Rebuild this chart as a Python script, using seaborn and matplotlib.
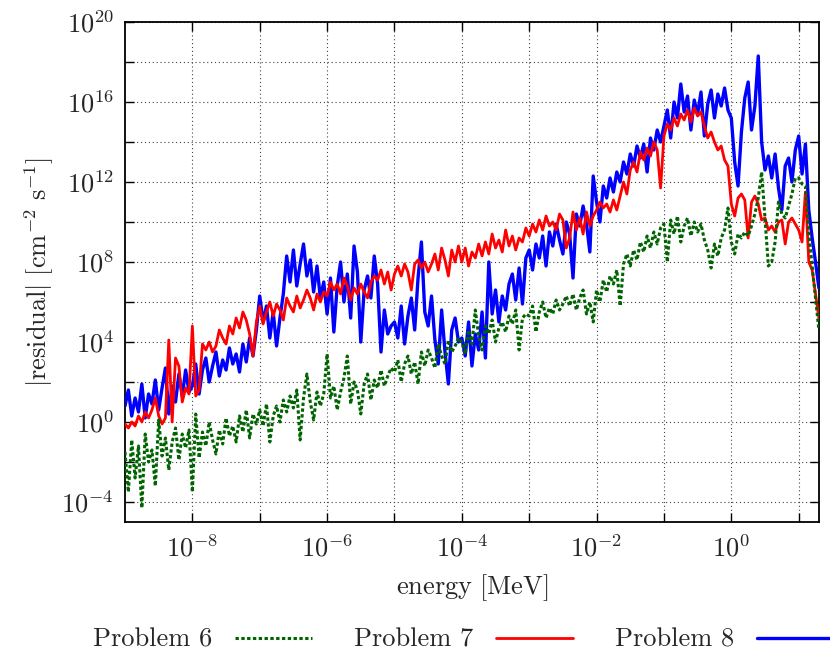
import numpy as np
import pandas as pd
import matplotlib
matplotlib.use("Agg")
import matplotlib.pyplot as plt
import seaborn as sns
from matplotlib.ticker import FixedLocator, FuncFormatter, NullFormatter

# ---------------- data (log10 of energy grid and log10 |residual|) ----------------
log_energy = np.round(np.arange(-9.0, 1.3001, 0.05), 2)   # 207 energy points [MeV]

problem6_log = [
    -1.5, -3.5, -0.9, -2.8, -1.2, -4.3, -0.6, -2.0, -1.4, -3.2, 0.1, -1.7, -0.8, -2.4, -1.0, -0.3, -1.9, -0.6, -1.3, -0.4,
    -3.5, 0.4, -1.8, -0.5, -1.2, 0.0, -0.9, -1.6, -0.4, -1.1, 0.2, -0.7, -0.2, -1.0, 0.3, -0.5, 0.6, -0.8, 0.4, -0.1,
    0.6, -0.2, 0.9, -1.0, 0.3, 0.8, 0.0, 1.1, 0.5, 1.3, 0.7, 1.6, -0.9, 1.2, 2.4, 1.0, 0.1, 1.5, 0.8, 1.4,
    3.4, 1.2, 1.8, 0.6, 1.5, 2.2, 3.3, 0.9, 2.0, 1.6, 0.4, 1.9, 2.4, 1.1, 2.1, 1.7, 2.6, 1.8, 2.3, 2.7,
    2.5, 3.1, 2.0, 2.9, 3.3, 2.4, 3.0, 1.9, 3.5, 2.8, 3.6, 3.2, 2.7, 3.9, 3.3, 2.9, 4.1, 3.5, 3.8, 4.2,
    4.0, 3.4, 4.6, 3.9, 5.6, 4.3, 3.6, 4.8, 4.4, 5.1, 4.0, 4.7, 5.0, 4.5, 5.3, 4.9, 5.6, 3.6, 5.2, 5.4,
    5.3, 5.8, 4.5, 5.5, 6.0, 5.2, 5.7, 5.4, 6.1, 5.6, 5.9, 6.3, 5.8, 6.4, 5.6, 6.2, 6.6, 5.4, 6.0, 5.0,
    6.6, 6.0, 7.1, 6.5, 7.3, 6.9, 7.6, 5.8, 7.9, 8.4, 7.8, 8.6, 8.1, 9.0, 8.5, 9.3, 8.7, 9.5, 8.9, 9.7,
    9.9, 8.0, 10.1, 9.4, 10.3, 9.0, 9.8, 10.2, 9.3, 10.0, 9.5, 9.9, 9.1, 8.6, 7.7, 8.9, 8.3, 9.2, 9.6, 10.7,
    9.0, 8.4, 9.4, 9.2, 9.5, 9.3, 9.8, 10.4, 11.2, 12.5, 10.2, 7.8, 8.0, 9.0, 11.0, 10.4, 10.2, 10.8, 11.4, 12.2,
    12.2, 11.9, 11.8, 9.5, 7.8, 6.2, 4.6,
]

problem7_log = [
    -0.1, -0.3, 0.0, -0.2, 0.3, 0.0, 0.5, 0.2, 0.6, 1.2, 0.3, -0.1, 0.2, 4.1, 0.0, 3.2, 2.8, 1.0, 1.7, 1.4,
    4.8, 1.3, 1.6, 3.9, 3.6, 4.0, 3.5, 3.8, 4.6, 4.2, 3.9, 4.8, 4.4, 5.2, 4.7, 5.5, 5.1, 4.4, 3.3, 5.0,
    5.8, 4.9, 5.5, 6.0, 5.3, 5.9, 5.6, 5.1, 6.2, 5.8, 5.5, 6.3, 5.7, 6.1, 6.6, 6.2, 5.6, 6.4, 6.0, 6.5,
    6.3, 7.0, 6.6, 6.9, 6.4, 7.2, 6.8, 6.1, 6.7, 6.4, 6.9, 6.5, 6.2, 7.0, 7.3, 7.1, 7.6, 6.9, 7.5, 6.6,
    7.4, 7.8, 7.3, 7.9, 7.5, 6.6, 7.9, 8.1, 7.7, 8.0, 7.5, 7.9, 8.4, 7.6, 8.7, 8.1, 7.3, 8.6, 8.0, 8.8,
    8.0, 8.7, 7.8, 8.5, 8.2, 8.9, 8.3, 9.0, 8.4, 9.4, 8.7, 9.1, 8.5, 9.6, 8.8, 9.3, 8.6, 9.2, 9.0, 9.7,
    9.3, 9.9, 9.5, 10.1, 9.6, 10.3, 9.8, 10.0, 9.6, 10.4, 10.1, 8.7, 9.2, 10.5, 9.6, 10.2, 9.4, 10.5, 9.8, 10.3,
    10.6, 11.0, 10.7, 10.9, 10.5, 11.1, 10.6, 11.3, 12.0, 11.4, 12.6, 13.0, 12.5, 13.5, 13.1, 13.7, 13.3, 14.0, 13.6, 11.7,
    14.3, 14.9, 14.6, 15.2, 14.8, 15.4, 15.1, 15.6, 15.0, 15.7, 15.3, 15.5, 14.8, 14.2, 14.5, 14.0, 13.6, 13.8, 13.1, 12.8,
    10.9, 10.3, 11.2, 11.4, 11.1, 9.2, 11.0, 11.3, 10.9, 10.1, 10.2, 9.6, 9.8, 9.5, 10.0, 10.1, 8.9, 10.0, 10.2, 9.9,
    9.6, 9.0, 11.5, 8.0, 7.6, 6.4, 5.2,
]

problem8_log = [
    0.8, 1.6, 0.3, 1.2, 0.5, 1.9, 0.2, 1.4, 0.9, 2.1, 0.6, 1.7, 2.7, 0.4, 1.8, 1.0, 2.4, 1.3, 2.6, 1.5,
    1.8, 2.9, 1.4, 2.6, 3.2, 2.0, 2.8, 3.5, 2.3, 3.1, 2.6, 3.7, 2.9, 3.4, 2.5, 3.9, 3.0, 4.2, 3.3, 4.6,
    6.3, 5.0, 5.8, 4.2, 5.5, 3.8, 5.2, 6.4, 8.3, 7.0, 8.6, 6.8, 7.9, 8.9, 7.3, 8.1, 6.5, 7.8, 6.2, 7.0,
    5.4, 7.2, 4.5, 6.8, 8.0, 6.0, 7.4, 5.2, 8.8, 7.5, 4.0, 6.6, 7.3, 6.2, 8.3, 6.9, 3.5, 5.6, 4.4, 4.8,
    5.0, 4.2, 5.8, 3.9, 5.3, 6.2, 4.6, 7.2, 9.0, 5.5, 4.8, 6.3, 4.1, 2.9, 5.6, 3.5, 1.9, 4.6, 5.2, 4.0,
    4.2, 3.3, 5.0, 2.8, 4.4, 3.6, 5.5, 3.2, 8.0, 5.4, 6.6, 5.0, 6.3, 5.6, 6.9, 7.4, 6.1, 7.7, 5.9, 8.2,
    8.6, 7.6, 8.9, 8.2, 9.3, 7.8, 9.5, 8.8, 9.9, 9.1, 8.4, 10.0, 9.4, 7.2, 10.4, 9.8, 10.8, 9.9, 8.5, 12.3,
    11.0, 10.0, 11.8, 11.2, 12.2, 11.5, 12.5, 12.0, 13.0, 12.4, 13.4, 12.8, 13.8, 13.2, 13.9, 12.5, 14.2, 13.6, 14.6, 14.0,
    14.8, 15.6, 14.2, 16.0, 15.2, 16.9, 15.5, 16.3, 14.6, 16.1, 15.4, 16.5, 14.3, 15.9, 16.6, 15.2, 16.4, 15.8, 16.7, 15.6,
    15.2, 13.0, 11.8, 14.5, 16.2, 17.0, 14.6, 15.8, 18.3, 14.0, 12.6, 13.3, 12.2, 13.4, 11.7, 10.6, 12.8, 13.2, 12.0, 13.6,
    14.3, 12.4, 13.9, 10.6, 9.2, 8.0, 6.7,
]

series_labels = ["Problem 6", "Problem 7", "Problem 8"]
x_tick_exps = [-8, -6, -4, -2, 0]
y_tick_exps = [-4, 0, 4, 8, 12, 16, 20]

# ---------------- style ----------------
sns.set_style("ticks")
plt.rcParams.update({
    "font.family": "serif",
    "font.serif": ["cmr10", "DejaVu Serif"],
    "mathtext.fontset": "cm",
    "axes.formatter.use_mathtext": True,
    "axes.unicode_minus": True,
})
FS = 19

energy = 10.0 ** log_energy
frames = {
    "Problem 6": pd.DataFrame({"energy": energy, "residual": 10.0 ** np.array(problem6_log)}),
    "Problem 7": pd.DataFrame({"energy": energy, "residual": 10.0 ** np.array(problem7_log)}),
    "Problem 8": pd.DataFrame({"energy": energy, "residual": 10.0 ** np.array(problem8_log)}),
}

fig = plt.figure(figsize=(8.3, 6.57), dpi=100)
ax = fig.add_axes([0.1506, 0.2055, 0.9867 - 0.1506, 0.9665 - 0.2055])
ax.set_xscale("log")
ax.set_yscale("log")

sns.lineplot(data=frames["Problem 8"], x="energy", y="residual", ax=ax, color="#0000ff",
             lw=2.4, label="Problem 8", estimator=None, sort=False, zorder=3)
sns.lineplot(data=frames["Problem 7"], x="energy", y="residual", ax=ax, color="#ff0000",
             lw=2.0, label="Problem 7", estimator=None, sort=False, zorder=4)
sns.lineplot(data=frames["Problem 6"], x="energy", y="residual", ax=ax, color="#006400",
             lw=2.2, label="Problem 6", estimator=None, sort=False, zorder=5,
             linestyle=(0, (1.1, 0.8)))

ax.set_xlim(1e-9, 20)
ax.set_ylim(1e-5, 1e20)

ax.xaxis.set_major_locator(FixedLocator([10.0 ** e for e in x_tick_exps]))
ax.xaxis.set_minor_locator(FixedLocator([10.0 ** e for e in [-7, -5, -3, -1, 1]]))
ax.yaxis.set_major_locator(FixedLocator([10.0 ** e for e in y_tick_exps]))
ax.yaxis.set_minor_locator(FixedLocator([10.0 ** e for e in [-2, 2, 6, 10, 14, 18]]))
fmt = FuncFormatter(lambda v, p: r"$10^{%d}$" % int(round(np.log10(v))))
ax.xaxis.set_major_formatter(fmt)
ax.yaxis.set_major_formatter(fmt)
ax.xaxis.set_minor_formatter(NullFormatter())
ax.yaxis.set_minor_formatter(NullFormatter())

ax.tick_params(which="both", direction="in", top=True, right=True, length=6.5, width=1.0,
               color="black", labelsize=FS)
ax.tick_params(axis="x", which="major", pad=9)
ax.tick_params(axis="y", which="major", pad=8)
ax.grid(which="both", color="#444444", linestyle=(0, (1, 2.5)), linewidth=0.8)
for s in ax.spines.values():
    s.set_linewidth(1.3)
    s.set_color("black")

ax.set_xlabel(r"$\mathrm{energy\ [MeV]}$", fontsize=FS, labelpad=8)
ax.set_ylabel(r"$|\mathrm{residual}|\ [\mathrm{cm}^{-2}\ \mathrm{s}^{-1}]$", fontsize=FS, labelpad=4)

handles, labels = ax.get_legend_handles_labels()
if ax.legend_ is not None:
    ax.legend_.remove()
hmap = dict(zip(labels, handles))
fig.legend([hmap[l] for l in series_labels], series_labels, loc="center",
           bbox_to_anchor=(0.558, 0.026), ncol=3, frameon=False, markerfirst=False,
           fontsize=FS, handlelength=2.9, handletextpad=0.87, columnspacing=1.6)

fig.savefig("out.png", dpi=100)
